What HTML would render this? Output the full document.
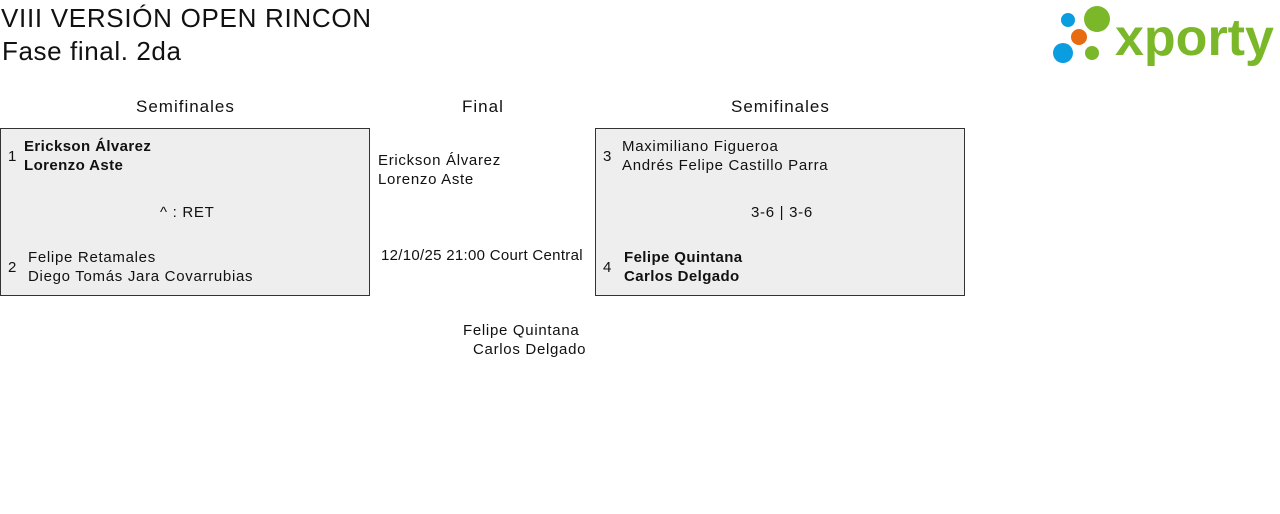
<!DOCTYPE html>
<html><head><meta charset="utf-8"><style>
body{margin:0;width:1280px;height:514px;background:#fff;font-family:"Liberation Sans",sans-serif;color:#111;position:relative;overflow:hidden}
.a{position:absolute;white-space:nowrap}
.box{position:absolute;background:#eee;border:1px solid #333;box-sizing:border-box}
.t{font-size:15px;line-height:19px;letter-spacing:0.7px}
.b{font-weight:bold;letter-spacing:0.4px}
.h{font-size:17px;letter-spacing:1px}
</style></head><body>
<div class="a" style="left:1px;top:2px;font-size:26px;line-height:32px;letter-spacing:0.7px">VIII VERSIÓN OPEN RINCON</div>
<div class="a" style="left:2px;top:35px;font-size:26px;line-height:32px;letter-spacing:0.6px">Fase final. 2da</div>
<svg class="a" style="left:1045px;top:0" width="235" height="70">
<circle cx="23" cy="20" r="7" fill="#0a9de0"/>
<circle cx="52" cy="19" r="13" fill="#7ab829"/>
<circle cx="34" cy="37" r="8" fill="#e76b10"/>
<circle cx="18" cy="53" r="10" fill="#0a9de0"/>
<circle cx="47" cy="53" r="7" fill="#7ab829"/>
<text x="70" y="55" font-family="Liberation Sans" font-weight="bold" font-size="52" fill="#7ab829">xporty</text>
</svg>
<div class="a t h" style="left:136px;top:97px">Semifinales</div>
<div class="a t h" style="left:462px;top:97px">Final</div>
<div class="a t h" style="left:731px;top:97px">Semifinales</div>

<div class="box" style="left:0;top:128px;width:370px;height:168px"></div>
<div class="a t" style="left:8px;top:147px">1</div>
<div class="a t b" style="left:24px;top:137px">Erickson Álvarez<br>Lorenzo Aste</div>
<div class="a t" style="left:160px;top:203px">^ : RET</div>
<div class="a t" style="left:8px;top:258px">2</div>
<div class="a t" style="left:28px;top:248px">Felipe Retamales<br>Diego Tomás Jara Covarrubias</div>

<div class="box" style="left:595px;top:128px;width:370px;height:168px"></div>
<div class="a t" style="left:603px;top:147px">3</div>
<div class="a t" style="left:622px;top:137px">Maximiliano Figueroa<br>Andrés Felipe Castillo Parra</div>
<div class="a t" style="left:751px;top:203px">3-6 | 3-6</div>
<div class="a t" style="left:603px;top:258px">4</div>
<div class="a t b" style="left:624px;top:248px">Felipe Quintana<br>Carlos Delgado</div>

<div class="a t" style="left:378px;top:151px">Erickson Álvarez<br>Lorenzo Aste</div>
<div class="a t" style="left:381px;top:246px;letter-spacing:0.3px">12/10/25 21:00 Court Central</div>
<div class="a t" style="left:463px;top:321px">Felipe Quintana</div>
<div class="a t" style="left:473px;top:340px">Carlos Delgado</div>
</body></html>
